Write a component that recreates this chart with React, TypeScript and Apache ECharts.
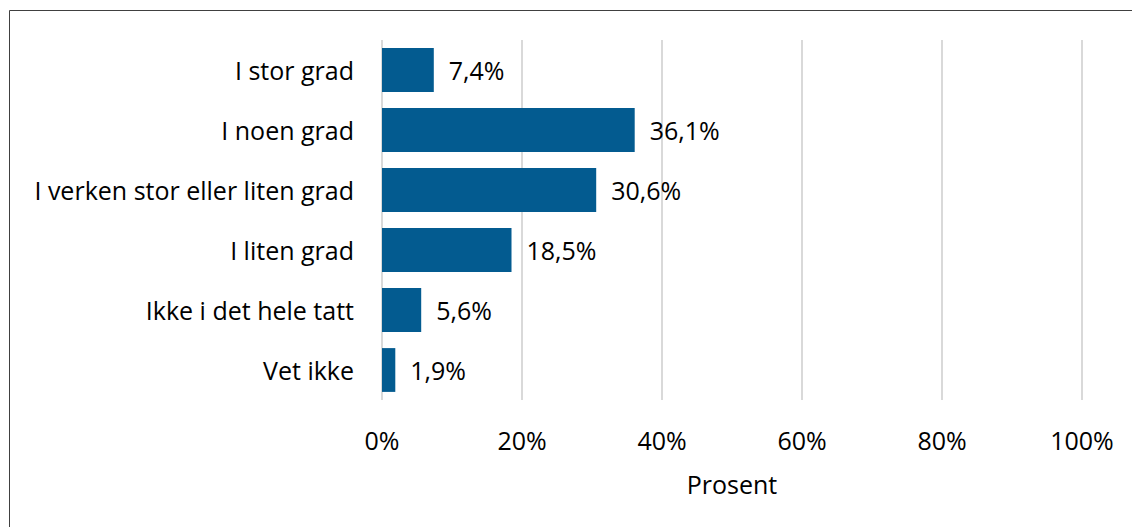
import React, { useEffect, useRef } from "react";
import * as echarts from "echarts";

const categories = [
  "I stor grad",
  "I noen grad",
  "I verken stor eller liten grad",
  "I liten grad",
  "Ikke i det hele tatt",
  "Vet ikke",
];
const values = [7.4, 36.1, 30.6, 18.5, 5.6, 1.9];
const axisName = "Prosent";

const FONT = "'Open Sans', sans-serif";
const FS = 25;

export default function App() {
  const ref = useRef<HTMLDivElement>(null);
  useEffect(() => {
    if (!ref.current) return;
    const chart = echarts.init(ref.current, null, { renderer: "svg" });
    chart.setOption({
      animation: false,
      backgroundColor: "#ffffff",
      textStyle: { fontFamily: FONT },
      graphic: [
        {
          type: "rect",
          shape: { x: 9.5, y: 10.5, width: 1140, height: 540 },
          style: { fill: "none", stroke: "#404040", lineWidth: 1 },
          silent: true,
        },
      ],
      grid: { left: 382, right: 50, top: 40, bottom: 127 },
      xAxis: {
        type: "value",
        min: 0,
        max: 100,
        interval: 20,
        name: axisName,
        nameLocation: "middle",
        nameGap: 71,
        nameTextStyle: { fontFamily: FONT, fontSize: FS, color: "#000" },
        axisLine: { show: false },
        axisTick: { show: false },
        axisLabel: {
          formatter: "{value}%",
          fontFamily: FONT,
          fontSize: FS,
          color: "#000",
          margin: 27,
        },
        splitLine: { show: true, lineStyle: { color: "#d9d9d9", width: 2 } },
      },
      yAxis: {
        type: "category",
        data: categories,
        inverse: true,
        axisLine: { show: false },
        axisTick: { show: false },
        axisLabel: {
          fontFamily: FONT,
          fontSize: FS,
          color: "#000",
          margin: 28,
        },
        splitLine: { show: false },
      },
      series: [
        {
          type: "bar",
          data: values,
          barCategoryGap: "27%",
          itemStyle: { color: "#035b90" },
          label: {
            show: true,
            position: "right",
            distance: 15,
            fontFamily: FONT,
            fontSize: FS,
            color: "#000",
            formatter: (p: any) => p.value.toFixed(1).replace(".", ",") + "%",
          },
        },
      ],
    });
    return () => chart.dispose();
  }, []);
  return (
    <div
      ref={ref}
      style={{ position: "absolute", left: 0, top: 0, width: 1132, height: 527 }}
    />
  );
}
